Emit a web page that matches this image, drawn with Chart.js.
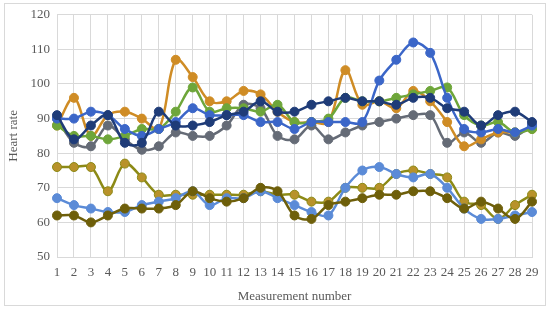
<!DOCTYPE html>
<html>
<head>
<meta charset="utf-8">
<script src="https://cdn.jsdelivr.net/npm/chart.js@4/dist/chart.umd.min.js"></script>
<style>
  html, body { margin: 0; padding: 0; background: #fff; }
  #wrap { position: relative; width: 550px; height: 311px; }
  #frame { position: absolute; left: 4px; top: 3px; width: 540px; height: 301px; border: 1px solid #d9d9d9; pointer-events: none; }
</style>
</head>
<body>
<div id="wrap">
  <canvas id="c" width="550" height="311"></canvas>
  <div id="frame"></div>
</div>
<script>
const categories = [1,2,3,4,5,6,7,8,9,10,11,12,13,14,15,16,17,18,19,20,21,22,23,24,25,26,27,28,29];
const yTicks = [50,60,70,80,90,100,110,120];

const seriesOrange   = [88,96,85,91,92,90,87,107,102,95,95,98,97,92,89,89,89,104,94,95,93,98,95,89,82,84,86,86,87];
const seriesGreen    = [88,85,85,84,85,87,87,92,99,92,93,93,92,94,89,89,90,96,95,95,96,97,98,99,91,88,89,86,87];
const seriesBlue     = [90,90,92,91,87,85,87,89,93,91,91,91,89,89,87,89,89,89,89,101,107,112,109,96,87,86,87,86,88];
const seriesNavy     = [91,84,88,91,83,83,92,88,88,89,91,92,95,92,92,94,95,96,95,95,94,96,96,93,92,88,91,92,89];
const seriesGrey     = [90,83,82,88,84,81,82,86,85,85,88,94,93,85,84,88,84,86,88,89,90,91,91,83,86,83,86,85,88];
const seriesOlive    = [76,76,76,69,77,73,68,68,68,68,68,68,69,68,68,66,66,70,70,70,74,75,74,73,66,65,61,65,68];
const seriesLightBlue= [67,65,64,63,63,65,66,67,69,65,67,67,69,67,65,63,62,70,75,76,74,73,74,70,64,61,61,62,63];
const seriesBrown    = [62,62,60,62,64,64,64,65,69,67,66,67,70,69,62,61,65,66,67,68,68,69,69,67,64,66,64,61,66];

function ds(data, line, fill) {
  return {
    data: data,
    borderColor: line,
    backgroundColor: fill || line,
    pointBackgroundColor: fill || line,
    pointBorderColor: line,
    pointRadius: 4.5,
    pointBorderWidth: 1,
    borderWidth: 2.5,
    tension: 0.35,
    clip: false
  };
}

const datasets = [
  ds(seriesNavy, '#1f3c78'),
  ds(seriesBlue, '#3b66c8'),
  ds(seriesGreen, '#6ea63a'),
  ds(seriesOrange, '#cf8c25'),
  ds(seriesGrey, '#656b76'),
  ds(seriesBrown, '#6e5f0a'),
  ds(seriesLightBlue, '#5b8bd7'),
  ds(seriesOlive, '#8c8a16', '#b8922a')
];

const fontFam = '"Liberation Serif", "DejaVu Serif", serif';
const textCol = '#595959';

new Chart(document.getElementById('c'), {
  type: 'line',
  data: { labels: categories, datasets: datasets },
  options: {
    responsive: false,
    animation: false,
    events: [],
    layout: { padding: { left: 0, top: 12, right: 18, bottom: 0 } },
    plugins: { legend: { display: false }, tooltip: { enabled: false } },
    scales: {
      x: {
        type: 'category',
        offset: false,
        grid: { color: '#d9d9d9', lineWidth: 1, drawTicks: false },
        border: { color: '#d9d9d9' },
        ticks: { color: textCol, font: { family: fontFam, size: 13 }, padding: 8, maxRotation: 0, autoSkip: false },
        title: { display: true, text: 'Measurement number', color: textCol, font: { family: fontFam, size: 13 }, padding: { top: 0, bottom: 7 } },
        afterFit: function (s) { s.height = 54; }
      },
      y: {
        min: 50, max: 120,
        afterBuildTicks: function (s) { s.ticks = yTicks.map(v => ({ value: v })); },
        grid: { color: '#d9d9d9', lineWidth: 1, drawTicks: false },
        border: { color: '#d9d9d9' },
        ticks: { color: textCol, font: { family: fontFam, size: 13 }, padding: 7 },
        title: { display: true, text: 'Heart rate', color: textCol, font: { family: fontFam, size: 13 }, padding: { top: 6, bottom: 0 } },
        afterFit: function (s) { s.width = 57; }
      }
    }
  }
});
</script>
</body>
</html>
